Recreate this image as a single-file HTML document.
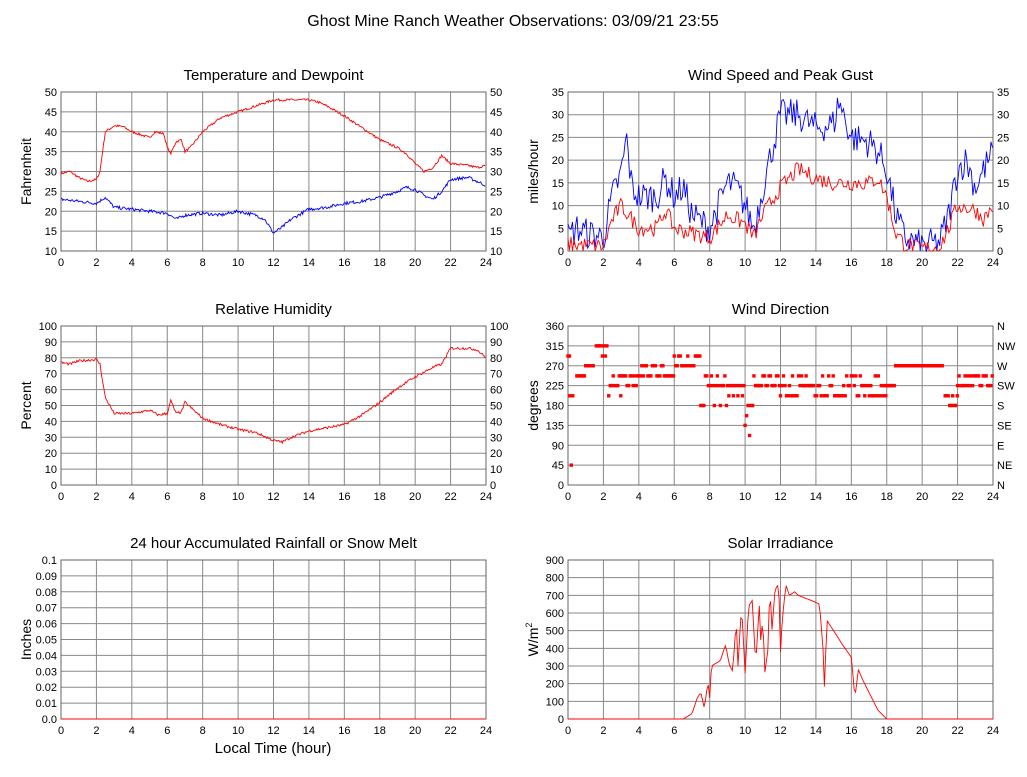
<!DOCTYPE html>
<html><head><meta charset="utf-8">
<style>
body{margin:0;background:#fff;}
svg text{font-family:"Liberation Sans",sans-serif;fill:#000;}
</style></head>
<body>
<svg id="s" width="1027" height="772" xmlns="http://www.w3.org/2000/svg"></svg>
<script>
const S=document.getElementById('s');let h='';
h+='<rect width="1027" height="772" fill="#fff"/>';
h+='<text x="513" y="26" font-size="16" text-anchor="middle">Ghost Mine Ranch Weather Observations: 03/09/21 23:55</text>';
let seed=7;function rnd(){seed=(seed*16807)%2147483647;return seed/2147483647;}
function interp(k,t){for(let i=0;i<k.length-1;i++){if(t>=k[i][0]&&t<=k[i+1][0]){const a=k[i],b=k[i+1];return a[1]+(b[1]-a[1])*(t-a[0])/(b[0]-a[0]);}}return k[k.length-1][1];}
function panel(o){
 const x0=o.x,x1=o.x+425,y0=o.y,y1=o.y+159;
 h+=`<text x="${(x0+x1)/2}" y="${y0-12}" font-size="15" text-anchor="middle">${o.title}</text>`;
 for(let i=0;i<=12;i++){const x=x0+i*425/12;h+=`<line x1="${x}" y1="${y0}" x2="${x}" y2="${y1}" stroke="#888" stroke-width="1"/>`;
  h+=`<text x="${x}" y="${y1+15}" font-size="11" text-anchor="middle">${i*2}</text>`;}
 const n=o.ticks.length-1;
 o.ticks.forEach((t,i)=>{const y=y1-i*159/n;h+=`<line x1="${x0}" y1="${y}" x2="${x1}" y2="${y}" stroke="#888"/>`;
  h+=`<text x="${x0-4}" y="${y+4}" font-size="11" text-anchor="end">${t}</text>`;
  if(o.right)h+=`<text x="${x1+4}" y="${y+4}" font-size="11">${o.right[i]}</text>`;});
 h+=`<rect x="${x0}" y="${y0}" width="425" height="159" fill="none" stroke="#666"/>`;
 h+=`<text transform="translate(${x0-30},${(y0+y1)/2}) rotate(-90)" font-size="14" text-anchor="middle">${o.ylab}</text>`;
 const X=t=>x0+t*425/24,Y=v=>y1-(v-o.min)/(o.max-o.min)*159;
 (o.series||[]).forEach(s=>{let p=[];for(let t=0;t<=24;t+=s.dt||0.05){let v=interp(s.k,t)+(rnd()-0.5)*2*(s.noise||0);if(s.clip!==undefined)v=Math.max(s.clip,v);p.push(X(t).toFixed(1)+','+Y(v).toFixed(1));}
  h+=`<polyline points="${p.join(' ')}" fill="none" stroke="${s.c}" stroke-width="0.9"/>`;});
 if(o.dots)o.dots.forEach(d=>{h+=`<rect x="${X(d[0])-1.7}" y="${Y(d[1])-1.7}" width="3.4" height="3.4" fill="red"/>`;});
}
panel({x:61,y:92,title:'Temperature and Dewpoint',ticks:[10,15,20,25,30,35,40,45,50],right:[10,15,20,25,30,35,40,45,50],ylab:'Fahrenheit',min:10,max:50,
series:[{c:'red',noise:0.3,k:[[0,29.5],[0.5,30],[1,28.5],[1.5,27.5],[2,28],[2.2,30],[2.5,40],[3,41.5],[3.5,41.3],[4,40],[5,38.5],[5.3,40],[5.8,39.5],[6,36],[6.2,34.5],[6.5,37.5],[6.8,38],[7,35],[7.3,36],[8,40],[9,43.5],[10,45],[11,46.5],[12,48],[13,48],[14,48],[14.5,47.5],[15,46.5],[16,44],[17,41],[18,38],[19,36],[19.5,34.5],[20,32],[20.5,30],[21,31],[21.5,34],[22,32],[23,31.5],[23.5,31],[24,31.5]]},
{c:'blue',noise:0.4,k:[[0,23],[1,22.5],[2,22],[2.5,23.5],[3,21],[4,20.5],[5,20],[6,19.5],[6.5,18],[7,19],[8,19.5],[9,19],[10,20],[11,19],[11.5,18],[12,14.5],[12.5,16],[13,18],[14,20.5],[15,21],[16,22],[17,22.5],[18,23.5],[19,25],[19.5,26],[20,25.5],[20.5,24],[21,23],[21.5,25],[22,28],[23,28.5],[23.5,27.5],[24,26.5]]}]});
panel({x:568,y:92,title:'Wind Speed and Peak Gust',ticks:[0,5,10,15,20,25,30,35],right:[0,5,10,15,20,25,30,35],ylab:'miles/hour',min:0,max:35,
series:[{c:'blue',dt:0.085,noise:3.5,clip:0,k:[[0,3],[0.5,5],[1,4],[2,3],[2.5,12],[3,17],[3.3,25],[3.6,14],[4,12],[5,12],[5.5,16],[6,12],[6.5,14],[7,8],[8,5],[9,15],[9.5,14],[10,10],[10.5,5],[11,14],[11.5,22],[12,30],[13,30],[14,27],[15,28],[15.3,33],[16,25],[17,24],[17.5,22],[18,18],[18.5,8],[19,3],[20,1],[21,2],[21.5,8],[22,18],[22.5,20],[23,14],[23.5,18],[24,22]]},
{c:'red',dt:0.085,noise:1.8,clip:0,k:[[0,1.5],[2,1],[2.5,7],[3,10],[4,5],[5,5],[5.5,9],[6,5],[7,4],[8,3],[9,8],[10,6],[10.5,3],[11,8],[12,14],[13,18],[14,16],[15,15],[16,15],[17,15],[17.5,16],[18,12],[18.5,4],[19,1.5],[20,0.5],[21,1],[21.5,5],[22,10],[23,9],[23.5,7],[24,10]]}]});
panel({x:61,y:326,title:'Relative Humidity',ticks:[0,10,20,30,40,50,60,70,80,90,100],right:[0,10,20,30,40,50,60,70,80,90,100],ylab:'Percent',min:0,max:100,
series:[{c:'red',noise:0.8,k:[[0,77],[0.5,76],[1,78],[2,79],[2.2,76],[2.5,55],[3,45],[4,45],[5,47],[5.5,44],[6,45],[6.2,53],[6.5,45],[6.8,46],[7,52],[7.5,47],[8,42],[9,38],[10,35],[11,33],[12,28],[12.5,27],[13,30],[14,34],[15,36],[16,38],[17,44],[18,52],[19,61],[20,68],[21,74],[21.5,76],[22,86],[23,86],[23.5,85],[24,80]]}]});
let dots=[];const segs=[[0,0.1,[292]],[0.1,0.3,[202,45]],[0.5,1,[247]],[1,1.5,[270]],[1.6,2.2,[292,315]],[2.3,3,[225,202,247]],[3,4,[247,225]],[4,6,[270,247]],[6,7.5,[292,270]],[7.5,9,[225,247,180]],[9,10,[202,225]],[10,10.5,[180,157,112,135]],[10.5,12,[225,247]],[12,18,[225,202,247]],[18,18.5,[225]],[18.5,21.2,[270]],[21.3,22,[180,202]],[22,24,[225,247]]];
segs.forEach(s=>{for(let t=s[0];t<=s[1];t+=0.085){dots.push([t,s[2][Math.floor(rnd()*s[2].length)]]);}});
panel({x:568,y:326,title:'Wind Direction',ticks:[0,45,90,135,180,225,270,315,360],right:['N','NE','E','SE','S','SW','W','NW','N'],ylab:'degrees',min:0,max:360,dots:dots});
panel({x:61,y:560,title:'24 hour Accumulated Rainfall or Snow Melt',ticks:['0.0','0.01','0.02','0.03','0.04','0.05','0.06','0.07','0.08','0.09','0.1'],ylab:'Inches',min:0,max:0.1,
series:[{c:'red',k:[[0,0],[24,0]]}]});
panel({x:568,y:560,title:'Solar Irradiance',ticks:[0,100,200,300,400,500,600,700,800,900],ylab:'W/m<tspan dy="-6" font-size="9">2</tspan>',min:0,max:900,
series:[{c:'red',dt:0.08,clip:0,noise:0,k:[[0,0],[6.5,0],[7,30],[7.3,120],[7.5,150],[7.7,60],[7.9,210],[8,120],[8.1,300],[8.6,330],[8.9,420],[9.1,310],[9.3,270],[9.5,560],[9.6,300],[9.8,640],[10,260],[10.2,640],[10.4,670],[10.6,310],[10.8,640],[10.9,400],[11,610],[11.1,250],[11.3,400],[11.4,790],[11.5,480],[11.7,740],[11.9,760],[12,380],[12.1,560],[12.3,760],[12.5,700],[12.8,720],[13,700],[13.5,680],[14,660],[14.2,650],[14.4,400],[14.5,130],[14.6,560],[15,500],[15.5,420],[16,350],[16.2,120],[16.4,280],[16.6,230],[17,150],[17.5,50],[18,0],[24,0]]}]});
h+='<text x="273" y="753" font-size="15" text-anchor="middle">Local Time (hour)</text>';
S.innerHTML=h;
</script>
</body></html>
